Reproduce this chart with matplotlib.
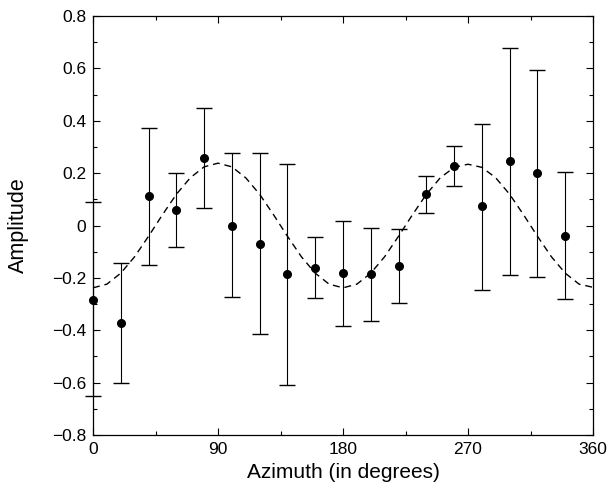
import matplotlib
matplotlib.use("Agg")
import matplotlib.pyplot as plt
from matplotlib.ticker import MultipleLocator

# Observed amplitudes
azimuth = [0, 20, 40, 60, 80, 100, 120, 140, 160, 180, 200, 220, 240, 260, 280, 300, 320, 340]
amplitude = [-0.284, -0.372, 0.113, 0.059, 0.258, 0.0, -0.071, -0.187, -0.161, -0.183,
             -0.184, -0.153, 0.119, 0.228, 0.074, 0.246, 0.199, -0.039]
err_upper = [0.089, -0.142, 0.373, 0.199, 0.447, 0.278, 0.276, 0.235, -0.045, 0.018,
             -0.008, -0.012, 0.188, 0.304, 0.388, 0.679, 0.594, 0.204]
err_lower = [-0.651, -0.601, -0.151, -0.083, 0.068, -0.273, -0.416, -0.609, -0.277, -0.382,
             -0.363, -0.297, 0.049, 0.151, -0.246, -0.190, -0.197, -0.282]

# Fitted curve (every 10 degrees)
fit_x = list(range(0, 361, 10))
fit_y = [-0.238, -0.224, -0.182, -0.119, -0.041, 0.041, 0.119, 0.182, 0.224, 0.238,
         0.224, 0.182, 0.119, 0.041, -0.041, -0.119, -0.182, -0.224, -0.238,
         -0.224, -0.182, -0.119, -0.041, 0.041, 0.119, 0.182, 0.222, 0.234,
         0.222, 0.182, 0.119, 0.041, -0.041, -0.119, -0.182, -0.224, -0.236]

xticks = [0, 90, 180, 270, 360]
yticks = [-0.8, -0.6, -0.4, -0.2, 0, 0.2, 0.4, 0.6, 0.8]
ytick_labels = ["\u22120.8", "\u22120.6", "\u22120.4", "\u22120.2", "0", "0.2", "0.4", "0.6", "0.8"]

plt.rcParams['font.family'] = ['Liberation Sans', 'DejaVu Sans']

fig = plt.figure(figsize=(6.09, 4.83), dpi=100)
ax = fig.add_axes([93/609, 1-435/483, 500/609, 419/483])

ax.plot(fit_x, fit_y, color='black', lw=1.0, dashes=(5, 3.5))

yerr = [[a - l for a, l in zip(amplitude, err_lower)],
        [u - a for a, u in zip(amplitude, err_upper)]]
eb = ax.errorbar(azimuth, amplitude, yerr=yerr, fmt='o', color='black', ms=5.5,
                 ecolor='black', elinewidth=0.8, capsize=6, capthick=1.0)
for artist in eb.lines[1] + eb.lines[2] + (eb.lines[0],):
    artist.set_clip_on(False)

ax.set_xlim(0, 360)
ax.set_ylim(-0.8, 0.8)
ax.set_xticks(xticks)
ax.set_xticklabels([str(t) for t in xticks])
ax.set_yticks(yticks)
ax.set_yticklabels(ytick_labels)
ax.xaxis.set_minor_locator(MultipleLocator(45))
ax.yaxis.set_minor_locator(MultipleLocator(0.1))
ax.tick_params(which='both', direction='in', top=True, right=True, labelsize=12.5, width=0.8)
ax.tick_params(which='major', length=5, pad=5)
ax.tick_params(which='minor', length=3)
for s in ax.spines.values():
    s.set_linewidth(0.9)

ax.set_xlabel("Azimuth (in degrees)", fontsize=15)
ax.set_ylabel("Amplitude", fontsize=15.5)
ax.xaxis.set_label_coords(0.5, -0.068)
ax.yaxis.set_label_coords(-0.128, 0.5)

fig.savefig("out.png", dpi=100)
